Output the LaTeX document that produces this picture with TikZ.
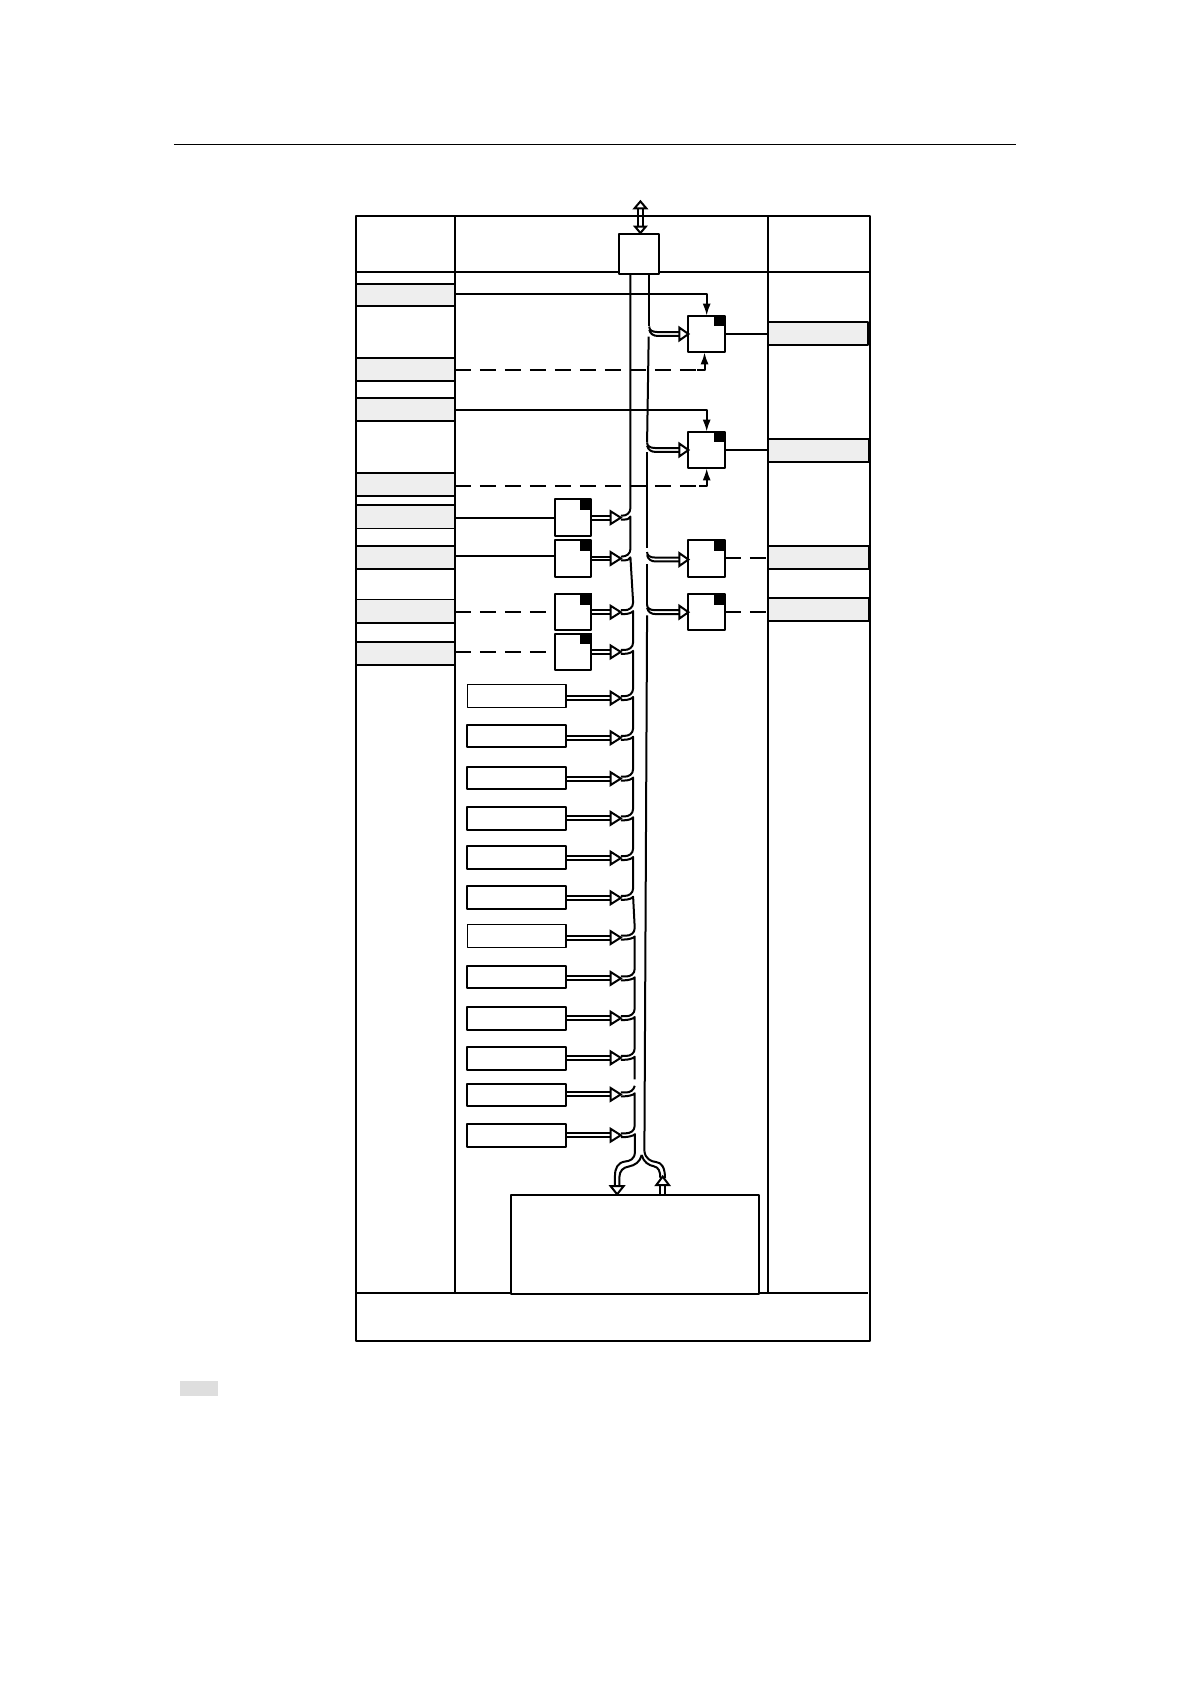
\documentclass[tikz,border=0pt]{standalone}
\usetikzlibrary{arrows.meta,calc}
\definecolor{barfill}{HTML}{EEEEEE}
\definecolor{notefill}{HTML}{DEDEDE}
\tikzset{
  every path/.style={line width=1pt,line join=round},
  blk/.style={draw,fill=white,inner sep=0pt,outer sep=0pt},
  thinblk/.style={draw,fill=white,inner sep=0pt,outer sep=0pt,line width=0.6pt},
  greybar/.style={draw,fill=barfill,inner sep=0pt,outer sep=0pt},
  greyplain/.style={fill=barfill,inner sep=0pt,outer sep=0pt},
  dashline/.style={dash pattern=on 8pt off 4.5pt},
  ctrl/.style={-{Latex[length=6pt,width=4pt]}},
  hollow/.style={draw,fill=white,line width=1pt,line join=miter}
}
% [style]{name}{x1}{y1}{x2}{y2}
\newcommand\bx[6][blk]{\node[#1,minimum width={(#5-#3)*0.537pt},minimum height={(#6-#4)*0.537pt}] (#2) at ({(#3+#5)/2},{(#4+#6)/2}) {};}
\newcommand\sq[3]{\bx{#1}{#2}{#3}{#2+34}{#3+34}\fill (#1.north east) ++(0.5,-0.5) rectangle ++(-10.5,10.5);}
\newcommand\lt[2]{%
  \pgfmathsetmacro\ya{#2-1.8}\pgfmathsetmacro\yb{#2+1.8}%
  \draw (#1.east |- 0,\ya) -- (570,\ya);
  \draw (#1.east |- 0,\yb) -- (570,\yb);
  \draw[hollow] (578,#2) -- (568.5,#2-6) -- (568.5,#2+6) -- cycle;
}
% bus segment: y1 x1 y2 x2
\newcommand\bs[4]{%
  \draw (578,#1+1.8) -- (581,#1+1.8) .. controls (585,#1+1.8) and (#2-1,#1+0.5) .. (#2,#1-1) -- (#4,#3-9) .. controls (#4,#3-4) and (#4-4,#3-1.8) .. (#4-8,#3-1.8) -- (578,#3-1.8);
}
% right tap: box name, y, bus x
\newcommand\rt[3]{%
  \pgfmathsetmacro\ya{#2-1.8}\pgfmathsetmacro\yb{#2+1.8}%
  \draw (#3,#2-7) .. controls (#3,#2-4) and (#3+2,#2-1.8) .. (#3+8,#2-1.8) -- (634,\ya);
  \draw (#3,#2-4) .. controls (#3+1,#2) and (#3+4,#2+1.8) .. (#3+8,#2+1.8) -- (634,\yb);
  \draw[hollow] (#1.west |- 0,#2) -- (632.5,#2-6) -- (632.5,#2+6) -- cycle;
}
\begin{document}
\begin{tikzpicture}[x=0.537pt,y=-0.537pt]
\useasboundingbox (0,0) rectangle (1108.1,1568);
\fill[white] (0,0) rectangle (1108.1,1568);
\coordinate (ruleL) at (162,134.5);
\coordinate (ruleR) at (946,134.5);
\draw[line width=0.5pt] (ruleL) -- (ruleR);
\node[fill=notefill,inner sep=0pt,minimum width={35*0.537pt},minimum height={14*0.537pt}] (note) at (185.5,1293) {};
% left bars
\bx[greybar]{L1}{331.5}{264}{423.5}{285}
\bx[greybar]{L2}{331.5}{333}{423.5}{355}
\bx[greybar]{L3}{331.5}{371}{423.5}{392}
\bx[greybar]{L4}{331.5}{440}{423.5}{462}
\bx[greyplain]{L5}{331.5}{470}{423.5}{492}
\draw (L5.north west) -- (L5.north east);
\draw[line width=0.4pt] (L5.south west) -- (L5.south east);
\bx[greybar]{L6}{331.5}{508}{423.5}{530}
\bx[greyplain]{L7}{331.5}{558}{423.5}{580}
\draw[line width=0.4pt] (L7.north west) -- (L7.north east);
\draw (L7.south west) -- (L7.south east);
\bx[greybar]{L8}{331.5}{598}{423.5}{619}
% right bars
\bx[greybar]{P1}{715}{300}{808}{321}
\bx[greybar]{P2}{715}{409}{809}{430}
\bx[greybar]{P3}{715}{508}{809}{530}
\bx[greybar]{P4}{715}{557}{809}{578}
% frame
\draw (331.5,201) rectangle (810,1248.5);
\draw (423.5,201) -- (423.5,1204);
\draw (715,201) -- (715,1204);
\draw (331.5,253) -- (810,253);
\draw (331.5,1204) -- (808,1204);
% top box
\bx{TOP}{576}{217.5}{614}{255}
% squares
\sq{R1}{641}{294}
\sq{R2}{641}{402}
\sq{R3}{641}{503}
\sq{R4}{641}{553}
\sq{S1}{516.5}{465}
\sq{S2}{516.5}{503}
\sq{S3}{516.5}{553}
\sq{S4}{516.5}{590}
% long boxes
\bx[thinblk]{B1}{435}{637}{527}{659}
\bx{B2}{435}{675}{527}{696}
\bx{B3}{435}{714}{527}{735}
\bx{B4}{435}{751}{527}{773}
\bx{B5}{435}{788}{527}{809}
\bx{B6}{435}{825}{527}{846}
\bx[thinblk]{B7}{435}{861}{527}{882}
\bx{B8}{435}{899}{527}{920}
\bx{B9}{435}{938}{527}{959}
\bx{B10}{435}{975}{527}{996}
\bx{B11}{435}{1009}{527}{1030}
\bx{B12}{435}{1047}{527}{1068}
% big box
\bx{BIG}{476}{1113}{707}{1205}
% top double arrow
\draw (594.3,194) -- (594.3,212);
\draw (598.3,194) -- (598.3,212);
\draw[hollow] (596.3,187.5) -- (590.8,194) -- (601.8,194) -- cycle;
\draw[hollow] (596.3,217) -- (591.3,211) -- (601.3,211) -- cycle;
% control lines
\coordinate (c2) at (656,344.5);
\coordinate (c4) at (658,452.5);
\draw[ctrl] (L1.east |- 0,273.5) -| (R1.north);
\draw[dashline] (L2.east |- c2) -- (c2);
\draw[ctrl] ($(c2)+(-7,0)$) -- (c2) -- (c2 |- R1.south);
\draw[ctrl] (L3.east |- 0,382) -| (R2.north);
\draw[dashline] (L4.east |- c4) -- (c4);
\draw[ctrl] ($(c4)+(-7,0)$) -- (c4) -- (c4 |- R2.south);
\draw (L5.east |- 0,482) -- (S1.west |- 0,482);
\draw (L6.east |- 0,518) -- (S2.west |- 0,518);
\draw[dashline] (L7.east |- 0,570) -- (S3.west |- 0,570);
\draw[dashline] (L8.east |- 0,607) -- (S4.west |- 0,607);
\draw (R1.east) -- (P1.west |- R1.east);
\draw (R2.east |- 0,419) -- (P2.west |- 0,419);
\draw[dashline] (R3.east |- 0,520) -- (P3.west |- 0,520);
\draw[dashline] (R4.east |- 0,570) -- (P4.west |- 0,570);
% left bus
\draw (587,255) -- (587,473) .. controls (587,478) and (583,480.2) .. (579,480.2) -- (578,480.2);
\lt{S1}{482}\lt{S2}{520}\lt{S3}{570}\lt{S4}{607}
\lt{B1}{650}\lt{B2}{687}\lt{B3}{725}\lt{B4}{762}\lt{B5}{799}\lt{B6}{836}
\lt{B7}{873}\lt{B8}{911}\lt{B9}{948}\lt{B10}{985}\lt{B11}{1019}\lt{B12}{1057}
\bs{482}{587}{520}{587}
\bs{520}{587}{570}{589.5}
\bs{570}{589.5}{607}{589.5}
\bs{607}{589.5}{650}{589.5}
\bs{650}{589.5}{687}{589.5}
\bs{687}{589.5}{725}{589.5}
\bs{725}{589.5}{762}{589.5}
\bs{762}{589.5}{799}{589.5}
\bs{799}{589.5}{836}{589.5}
\bs{836}{589.5}{873}{591}
\bs{873}{591}{911}{591}
\bs{911}{591}{948}{591}
\bs{948}{591}{985}{591}
% segment with gap
\draw (578,986.8) -- (581,986.8) .. controls (585,986.8) and (590,985.5) .. (591,984) -- (591,1005);
\draw (591,1011) .. controls (590,1015) and (587,1017.2) .. (583,1017.2) -- (578,1017.2);
\bs{1019}{591}{1057}{591}
% bottom split
\draw (578,1058.8) -- (581,1058.8) .. controls (585,1058.8) and (590,1057.5) .. (591.2,1056) -- (591.2,1072) .. controls (591.2,1080) and (586,1081) .. (582,1081.5) .. controls (575,1082.5) and (572.6,1088) .. (572.6,1095) -- (572.6,1105);
\draw (597.5,1075.4) .. controls (596,1082) and (591,1085) .. (586,1086) .. controls (580,1087) and (577,1090) .. (576.7,1096) -- (576.7,1105);
\draw (597.5,1075.4) .. controls (599,1082) and (604,1085) .. (609,1086) .. controls (613,1087) and (614.8,1090) .. (614.8,1097);
\draw (600,1072) .. controls (601,1079) and (606,1081.5) .. (611,1082) .. controls (616,1082.5) and (619.2,1087) .. (619.2,1097);
\draw[hollow] (574.6,1112) -- (568.6,1104.5) -- (580.6,1104.5) -- cycle;
\draw (614.8,1104) -- (614.8,1112.5);
\draw (619.2,1104) -- (619.2,1112.5);
\draw[hollow] (617,1095.5) -- (611,1103.5) -- (623,1103.5) -- cycle;
% right bus
\rt{R1}{311}{604.5}
\rt{R2}{419}{602.5}
\rt{R3}{521}{602.5}
\rt{R4}{570}{602.5}
\draw (604.5,255) -- (604.5,304);
\draw (604,313.5) -- (602.5,412);
\draw (602.5,421) -- (602.5,510);
\draw (602.5,525) -- (602.5,563);
\draw (602.5,573) -- (600,1072);
\end{tikzpicture}
\end{document}
